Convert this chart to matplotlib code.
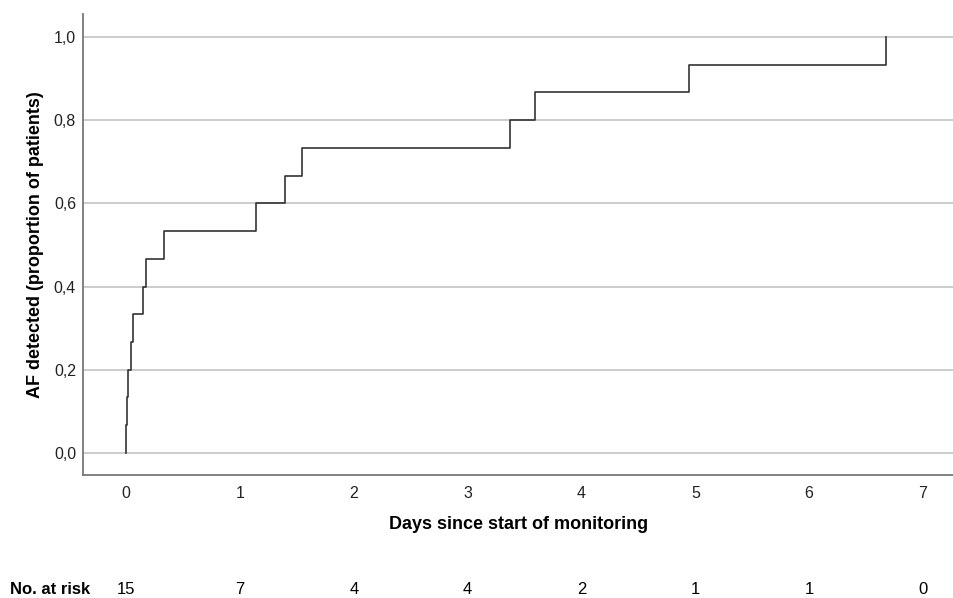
import numpy as np
import matplotlib.pyplot as plt
from matplotlib.ticker import FuncFormatter

plt.rcParams['font.family'] = ['Liberation Sans', 'DejaVu Sans']

# event times (days), one patient per step
event_days = [0.003, 0.008, 0.02, 0.047, 0.06, 0.152, 0.176, 0.334,
              1.141, 1.396, 1.545, 3.371, 3.591, 4.943, 6.673]
n_patients = 15
risk_days = [0, 1, 2, 3, 4, 5, 6, 7]
at_risk = [15, 7, 4, 4, 2, 1, 1, 0]
y_ticks = [0.0, 0.2, 0.4, 0.6, 0.8, 1.0]

times = np.concatenate([[0.0], event_days])
cum = np.arange(0, n_patients + 1) / n_patients

fig = plt.figure(figsize=(9.54, 5.98), dpi=100)
ax = fig.add_axes([83 / 954, 1 - 475 / 598, (954 - 83) / 954, (475 - 14) / 598])

ax.step(times, cum, where='post', color='#333333', lw=1.2, zorder=3)

ax.set_xlim(-0.378, 7.272)
ax.set_ylim(-0.053, 1.055)
ax.set_xticks(risk_days)
ax.set_yticks(y_ticks)
ax.yaxis.set_major_formatter(FuncFormatter(lambda v, p: f"{v:.1f}".replace('.', ',')))
ax.tick_params(axis='x', length=0, labelsize=11.5, colors='#222222', pad=8)
ax.tick_params(axis='y', length=0, labelsize=11.5, colors='#222222', pad=5)
ax.grid(axis='y', color='#c8c8c8', lw=1.3, zorder=1)
for s in ['top', 'right']:
    ax.spines[s].set_visible(False)
for s in ['left', 'bottom']:
    ax.spines[s].set_color('#777777')
    ax.spines[s].set_linewidth(1.3)

ax.set_xlabel('Days since start of monitoring', fontsize=13, fontweight='bold', labelpad=11)
ax.set_ylabel('AF detected (proportion of patients)', fontsize=13, fontweight='bold', labelpad=7)

# number at risk row
fig.text(10 / 954, 1 - 590 / 598, 'No. at risk', fontsize=12, fontweight='bold', va='center')
for d, n in zip(risk_days, at_risk):
    xf = ax.transData.transform((d, 0))[0] / fig.bbox.width
    fig.text(xf, 1 - 590 / 598, str(n), fontsize=12, ha='center', va='center')

fig.savefig('out.png', dpi=100)
